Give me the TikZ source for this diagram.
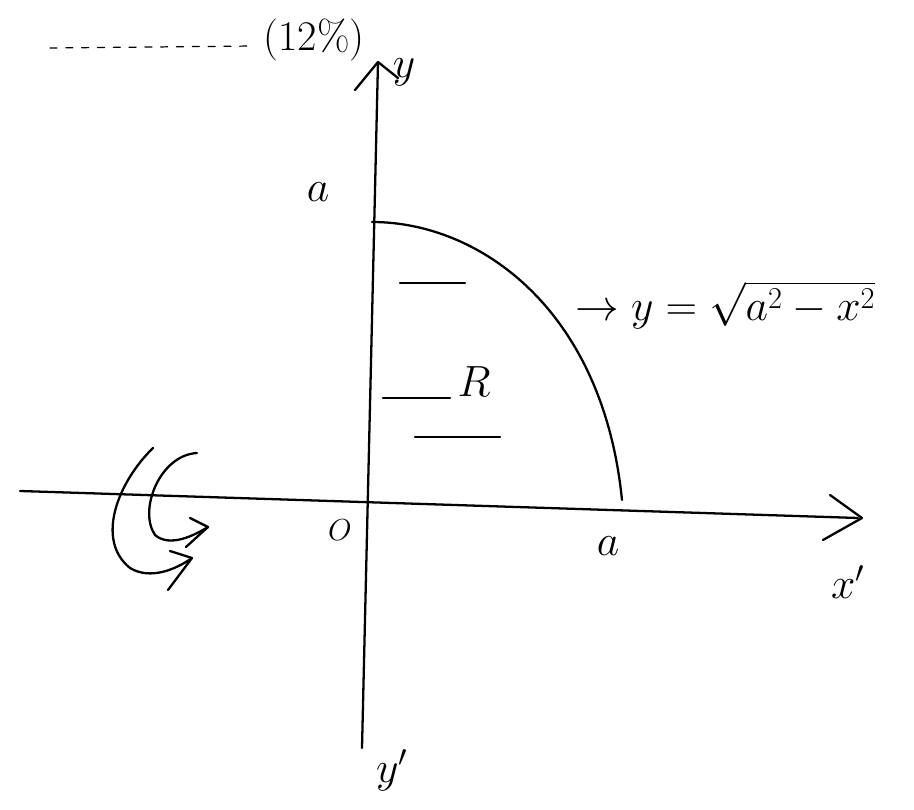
\documentclass[tikz,border=0pt]{standalone}
\usepackage{fontspec}
\usepackage{amsmath,amssymb}
\usepackage{tikz}

\begin{document}
\begin{tikzpicture}[x=0.02cm,y=-0.02cm,line width=1.3pt,line cap=round,line join=round,
        lbl/.style={inner sep=0pt,font=\fontsize{24}{28}\selectfont},
        small/.style={inner sep=0pt,font=\fontsize{18}{22}\selectfont}]
        \useasboundingbox (0,0) rectangle (914,810);
        % Coordinates
        \coordinate (A) at (20,491);
        \coordinate (B) at (858,518);
        \coordinate (C) at (378,62);
        \coordinate (D) at (362,748);
        \coordinate (E) at (372,222);
        \coordinate (F) at (622,500);
        \coordinate (G) at (830,495);
        \coordinate (H) at (862,518);
        \coordinate (I) at (823,540);
        \coordinate (J) at (355,90);
        \coordinate (K) at (398,78);
        \coordinate (L) at (153,448);
        \coordinate (M) at (192,558);
        \coordinate (N) at (170,551);
        \coordinate (O) at (168,590);
        \coordinate (P) at (197,453);
        \coordinate (Q) at (208,527);
        \coordinate (R) at (190,518);
        \coordinate (S) at (186,547);
        \coordinate (T) at (50,48);
        \coordinate (U) at (255,46);

        % Drawing
        \draw (A) -- (B);
        \draw (G) -- (H) -- (I);
        \draw (C) -- (D);
        \draw (J) -- (C) -- (K);
        \draw (E) .. controls (480,222) and (603,310) .. (F);
        \draw (400,283) -- (465,283);
        \draw (383,398) -- (450,398);
        \draw (415,437) -- (500,437);
        \draw[line width=0.7pt, dash pattern=on 4pt off 5pt] (T) -- (U);
        \draw (L) .. controls (118,482) and (95,540) .. (130,568) .. controls (150,580) and (175,570) .. (M);
        \draw (N) -- (M) -- (O);
        \draw (P) .. controls (160,455) and (138,510) .. (155,535) .. controls (170,548) and (195,535) .. (Q);
        \draw (R) -- (Q) -- (S);
        \node[inner sep=0pt,font=\fontsize{24}{28}\selectfont] (pct) at (314,40) {(12\%)};
        \node[lbl] (ly) at (404,72) {$y$};
        \node[lbl] (la) at (318,192) {$a$};
        \node[small] (lo) at (340,530) {$O$};
        \node[lbl] (lb) at (608,546) {$a$};
        \node[lbl] (lx) at (848,582) {$x'$};
        \node[lbl] (lyy) at (392,770) {$y'$};
        \node[lbl] (lr) at (474,382) {$R$};
        \node[inner sep=0pt,font=\fontsize{26}{30}\selectfont,anchor=west] (eq) at (574,305) {$\rightarrow y=\sqrt{a^2-x^2}$};
\end{tikzpicture}
\end{document}
